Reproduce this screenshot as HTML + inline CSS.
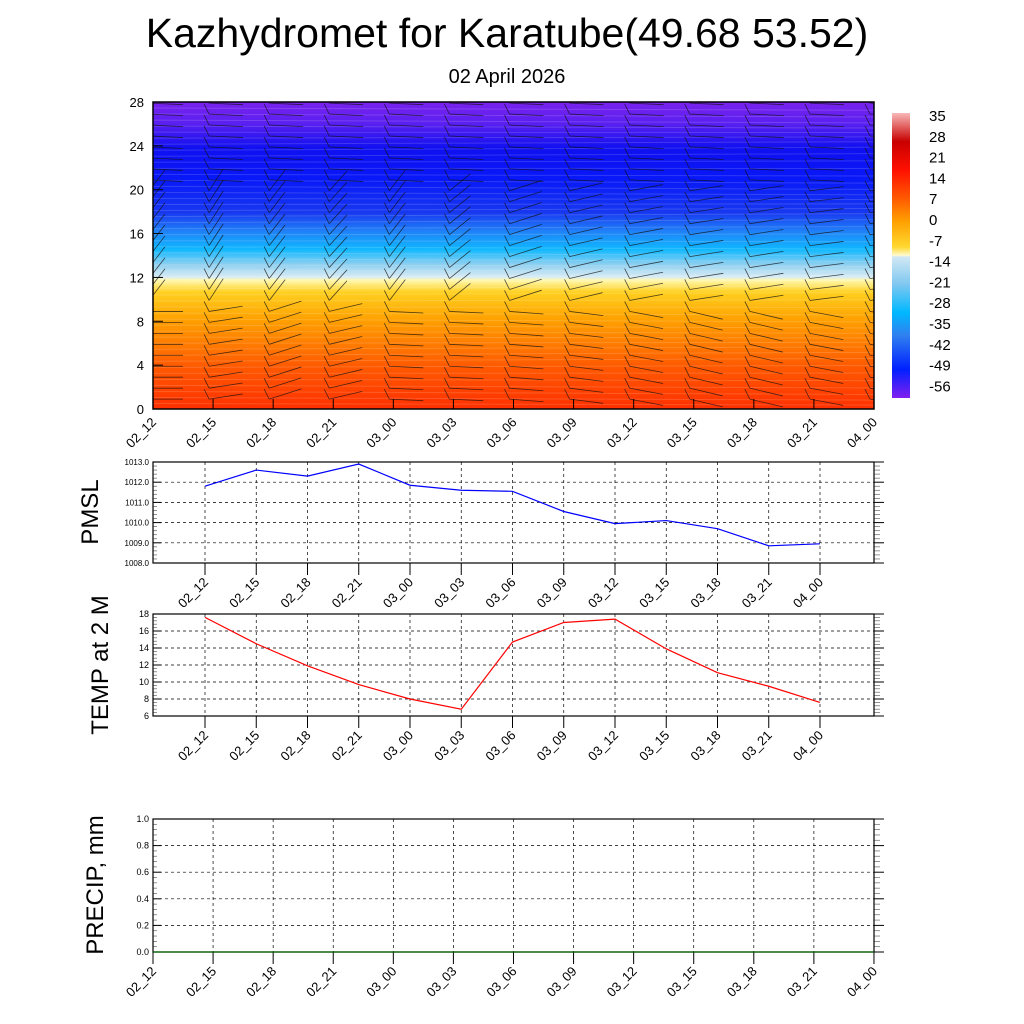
<!DOCTYPE html>
<html><head><meta charset="utf-8"><style>
body{margin:0;background:#fff;}
svg{display:block;font-family:"Liberation Sans",sans-serif;}
</style></head><body>
<svg id="c" width="1024" height="1024" viewBox="0 0 1024 1024">
<defs>
<linearGradient id="tg" x1="0" y1="1" x2="0" y2="0">
<stop offset="0" stop-color="#ff3000"/>
<stop offset="0.14" stop-color="#ff5a00"/>
<stop offset="0.29" stop-color="#ffa000"/>
<stop offset="0.38" stop-color="#ffd020"/>
<stop offset="0.42" stop-color="#fff8b0"/>
<stop offset="0.43" stop-color="#d8ecf6"/>
<stop offset="0.47" stop-color="#90d0f0"/>
<stop offset="0.52" stop-color="#10b8ff"/>
<stop offset="0.58" stop-color="#2080f8"/>
<stop offset="0.64" stop-color="#1838f0"/>
<stop offset="0.75" stop-color="#0818f8"/>
<stop offset="0.85" stop-color="#1010f0"/>
<stop offset="0.93" stop-color="#5a20f0"/>
<stop offset="1" stop-color="#7a22ee"/>
</linearGradient>
<linearGradient id="cg" x1="0" y1="0" x2="0" y2="1">
<stop offset="0" stop-color="#f8b8b8"/>
<stop offset="0.1" stop-color="#c80000"/>
<stop offset="0.2" stop-color="#ff1000"/>
<stop offset="0.3" stop-color="#ff5a00"/>
<stop offset="0.38" stop-color="#ffa000"/>
<stop offset="0.47" stop-color="#ffd830"/>
<stop offset="0.5" stop-color="#fffad0"/>
<stop offset="0.505" stop-color="#d0e8f4"/>
<stop offset="0.6" stop-color="#80c8f0"/>
<stop offset="0.7" stop-color="#00b8ff"/>
<stop offset="0.78" stop-color="#3080f0"/>
<stop offset="0.9" stop-color="#0020ff"/>
<stop offset="1" stop-color="#8020f0"/>
</linearGradient>
<clipPath id="clipTop"><rect x="153" y="102" width="721" height="307"/></clipPath>
</defs>
<text x="507" y="47" font-size="41" text-anchor="middle">Kazhydromet for Karatube(49.68 53.52)</text>
<text x="507" y="83" font-size="20" text-anchor="middle">02 April 2026</text>
<rect x="153" y="102" width="721" height="307" fill="url(#tg)"/>
<g id="contours" clip-path="url(#clipTop)"></g>
<g id="barbs" clip-path="url(#clipTop)"></g>
<rect x="153" y="102" width="721" height="307" fill="none" stroke="#000" stroke-width="1.5"/>
<rect x="892" y="113" width="18" height="285" fill="url(#cg)"/>
<g id="g"></g>
</svg>
<script>
const times=["02_12","02_15","02_18","02_21","03_00","03_03","03_06","03_09","03_12","03_15","03_18","03_21","04_00"];
const pmsl=[1011.8,1012.6,1012.3,1012.9,1011.85,1011.6,1011.55,1010.55,1009.95,1010.1,1009.7,1008.85,1008.95];
const temp2m=[17.6,14.5,11.9,9.7,8.0,6.8,14.7,17.0,17.4,13.9,11.1,9.5,7.6];
const precip=[0,0,0,0,0,0,0,0,0,0,0,0,0];
const pmslTicks=["1008.0","1009.0","1010.0","1011.0","1012.0","1013.0"];
const tempTicks=["6","8","10","12","14","16","18"];
const precipTicks=["0.0","0.2","0.4","0.6","0.8","1.0"];
const heightTicks=["0","4","8","12","16","20","24","28"];
const cbLabels=["35","28","21","14","7","0","-7","-14","-21","-28","-35","-42","-49","-56"];
// wind barb tilt (degrees) per column
const midTilt=[-60,-65,-60,-55,-60,-45,-20,-15,-12,-10,-10,-8,-8];
const lowTilt=[0,-10,-20,-15,3,3,5,8,12,15,15,12,10];

const NS="http://www.w3.org/2000/svg";
const svg=document.getElementById('g');
function el(t,a,p){const e=document.createElementNS(NS,t);for(const k in a)e.setAttribute(k,a[k]);(p||svg).appendChild(e);return e;}
function txt(x,y,s,size,anchor,rot,p){const e=el('text',{x:x,y:y,'font-size':size,'text-anchor':anchor||'middle'},p);if(rot)e.setAttribute('transform',`rotate(${rot} ${x} ${y})`);e.textContent=s;return e;}

const tx=i=>153+i*721/12, ty=v=>409-v*307/28;
const cont=document.getElementById('contours');
for(let v=0.5;v<28;v+=0.55){const y=ty(v);const l=el('line',{x1:153,x2:874,y1:y,y2:y+(Math.sin(v)*3),stroke:'#fff','stroke-opacity':0.15,'stroke-width':1},cont);

}
const bg=document.getElementById('barbs');
times.forEach((t,i)=>{
  for(let lv=0.9;lv<28;lv+=1.0){
    const cx=tx(i), y=ty(lv);
    let a=lowTilt[i]; if(lv>9&&lv<20)a=midTilt[i]; if(lv>=20)a=3;
    const r=a*Math.PI/180, L=(lv>9&&lv<20&&i<6)?24:30;
    const x2=cx+L*Math.cos(r), y2=y+L*Math.sin(r);
    const b=el('path',{d:`M${cx-4},${y} L${x2},${y2} M${cx-4},${y} L${cx-9},${y-10}`,stroke:'#111','stroke-width':0.8,fill:'none','stroke-opacity':0.75},bg);
    
    
  }
  const tk=el('line',{x1:tx(i),x2:tx(i),y1:409,y2:399,stroke:'#000'});
  
  
  const lb=txt(tx(i)+4,423,t,13,'end',-45);
  
  
});
heightTicks.forEach(h=>{const v=+h;const y=ty(v);
  const l=txt(144,y+5,h,13,'end');
  
  
  el('line',{x1:153,x2:163,y1:y,y2:y,stroke:'#000'});});
cbLabels.forEach((s,k)=>{const l=txt(929,121+k*20.8,s,15,'start');
  
  });

function panel(name,top,bot,labels,vmin,vmax,vals,color,title,titleY,titleX,tickStart,tickStep){
  const x0=153,x1=874,sy=v=>bot-(v-vmin)/(vmax-vmin)*(bot-top);
  const sx=i=>tickStart+i*tickStep;
  labels.forEach(s=>{const v=+s;const y=sy(v);
    if(v>vmin&&v<vmax){const g=el('line',{x1:x0,x2:x1,y1:y,y2:y,stroke:'#000','stroke-dasharray':'3,3','stroke-width':0.7});
      
      }
    el('line',{x1:x1,x2:x1+10,y1:y,y2:y,stroke:'#000'});
    el('line',{x1:x0,x2:x0+8,y1:y,y2:y,stroke:'#000'});
    const l=txt(x0-4,y+3,s,labels[0].length>3?8:9,'end');
    
    });
  const n=(labels.length-1)*5;
  for(let k=1;k<n;k++){if(k%5==0)continue;const y=bot-k*(bot-top)/n;el('line',{x1:x1,x2:x1+6,y1:y,y2:y,stroke:'#666','stroke-width':0.7});el('line',{x1:x0,x2:x0+4,y1:y,y2:y,stroke:'#666','stroke-width':0.7});}
  times.forEach((t,i)=>{const x=sx(i);
    const g=el('line',{x1:x,x2:x,y1:top,y2:bot,stroke:'#000','stroke-dasharray':'3,3','stroke-width':0.7});
    
    
    el('line',{x1:x,x2:x,y1:bot,y2:bot+12,stroke:'#000'});
    const l=txt(x+4,bot+20,t,13,'end',-45);
    
    });
  const f=el('rect',{x:x0,y:top,width:x1-x0,height:bot-top,fill:'none',stroke:'#000','stroke-width':1.2});
  
  
  const p=el('polyline',{points:vals.map((v,i)=>sx(i)+','+sy(v)).join(' '),fill:'none',stroke:color,'stroke-width':1.2});
  
  
  const tt=txt(titleX,titleY,title,24,'middle',-90);
  
  
}
panel('pmsl',462,563,pmslTicks,1008,1013,pmsl,'#0000ff','PMSL',512,98,205,51.25);
panel('temp',614,716,tempTicks,6,18,temp2m,'#ff0000','TEMP at 2 M',665,108,205,51.25);
panel('precip',819,952,precipTicks,0,1,precip,'#006400','PRECIP, mm',885,103,153,60.08);
</script>
</body></html>
